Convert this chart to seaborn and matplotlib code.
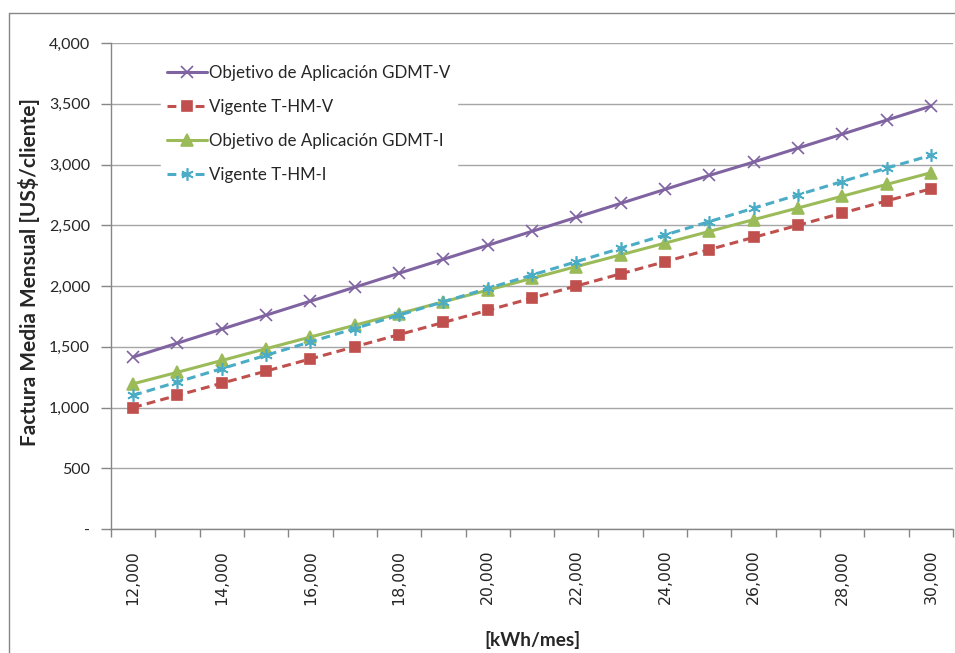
import matplotlib
matplotlib.use("Agg")
import matplotlib.pyplot as plt
import matplotlib.ticker as mticker
from matplotlib.lines import Line2D
import seaborn as sns
import pandas as pd

kwh = [12000, 13000, 14000, 15000, 16000, 17000, 18000, 19000, 20000, 21000,
       22000, 23000, 24000, 25000, 26000, 27000, 28000, 29000, 30000]
obj_gdmt_v = [1415, 1530, 1645, 1760, 1875, 1990, 2105, 2220, 2335, 2450,
              2565, 2680, 2795, 2910, 3020, 3135, 3250, 3365, 3480]
vig_thm_v = [1000, 1100, 1200, 1300, 1400, 1500, 1600, 1700, 1800, 1900,
             2000, 2100, 2200, 2300, 2400, 2500, 2600, 2700, 2800]
obj_gdmt_i = [1195, 1290, 1387, 1484, 1580, 1677, 1773, 1870, 1966, 2063,
              2160, 2256, 2353, 2449, 2546, 2642, 2739, 2836, 2932]
vig_thm_i = [1100, 1210, 1320, 1430, 1540, 1650, 1760, 1870, 1980, 2090,
             2200, 2310, 2420, 2530, 2640, 2750, 2860, 2970, 3075]

names = ["Objetivo de Aplicación GDMT-V", "Vigente T-HM-V",
         "Objetivo de Aplicación GDMT-I", "Vigente T-HM-I"]
series = [obj_gdmt_v, vig_thm_v, obj_gdmt_i, vig_thm_i]

colors = ["#8064A2", "#C0504D", "#9BBB59", "#4BACC6"]
marks = ["x", "s", "^", (6, 2, 0)]
dash_styles = [None, (2.9, 1.7), None, (2.9, 1.7)]
msizes = [8, 7.5, 8, 9]
LW = 2.2

sns.set_theme(style="white")
plt.rcParams["font.family"] = ["Lato", "DejaVu Sans"]

fig = plt.figure(figsize=(9.55, 6.53), dpi=100)
ax = fig.add_axes([111/955, 1-529/653, (953-111)/955, (529-43)/653])

handles = []
for n, vals, c, m, d, ms in zip(names, series, colors, marks, dash_styles, msizes):
    df = pd.DataFrame({"kWh": kwh, "valor": vals})
    kw = dict(color=c, marker=m, linewidth=LW, markersize=ms,
              markeredgewidth=1.2, markeredgecolor=c)
    if d is not None:
        kw["dashes"] = d
    sns.lineplot(data=df, x="kWh", y="valor", ax=ax, **kw)
    h = Line2D([], [], color=c, marker=m, linewidth=LW, markersize=ms,
               markeredgewidth=1.2, markeredgecolor=c)
    if d is not None:
        h.set_dashes(d)
    handles.append(h)

ax.set_xlim(11500, 30500)
ax.set_ylim(0, 4000)
ax.yaxis.set_major_locator(mticker.MultipleLocator(500))
ax.yaxis.set_major_formatter(mticker.FuncFormatter(
    lambda v, p: "-" if v == 0 else f"{int(v):,}"))
ax.grid(axis="y", color="#a6a6a6", linewidth=1.0)
ax.grid(axis="x", visible=False)
ax.set_axisbelow(True)

# x ticks: category boundaries as major ticks, labels every 2 categories as minor
ax.xaxis.set_major_locator(mticker.FixedLocator([11500 + 1000*k for k in range(20)]))
ax.xaxis.set_major_formatter(mticker.NullFormatter())
ax.xaxis.set_minor_locator(mticker.FixedLocator(kwh[::2]))
ax.xaxis.set_minor_formatter(mticker.FuncFormatter(lambda v, p: f"{int(v):,}"))
ax.tick_params(axis="x", which="major", direction="out", length=6, width=1,
               color="#868686", bottom=True)
ax.tick_params(axis="x", which="minor", length=0, pad=15, labelsize=11.3,
               labelrotation=90, bottom=True)
for lab in ax.get_xticklabels(minor=True):
    lab.set_fontfamily("DejaVu Sans")
ax.tick_params(axis="y", direction="out", length=7, width=1, color="#868686",
               left=True, labelsize=11.5, pad=8)

for s in ["top", "right"]:
    ax.spines[s].set_visible(False)
for s in ["left", "bottom"]:
    ax.spines[s].set_color("#868686")
    ax.spines[s].set_linewidth(1.0)

ax.set_xlabel("[kWh/mes]", fontsize=13.7, fontweight="bold", labelpad=19)
ax.set_ylabel("Factura Media Mensual [US$/cliente]", fontsize=15,
              fontweight="bold")
ax.yaxis.set_label_coords((40 - 111) / 842, (529 - 272) / 486)

leg = ax.legend(handles, names, loc="upper left", bbox_to_anchor=(0.059, 0.969),
                frameon=True, fontsize=12.2, handlelength=2.35, handletextpad=0.1,
                labelspacing=1.07, borderaxespad=0)
leg.get_frame().set_facecolor("white")
leg.get_frame().set_edgecolor("white")
leg.get_frame().set_alpha(1.0)

# outer chart border (top and left visible)
fig.add_artist(Line2D([9/955, 9/955], [0, 1-13/653], transform=fig.transFigure,
                      color="#868686", linewidth=1.0))
fig.add_artist(Line2D([9/955, 1], [1-13/653, 1-13/653], transform=fig.transFigure,
                      color="#868686", linewidth=1.0))

fig.savefig("out.png", dpi=100)
